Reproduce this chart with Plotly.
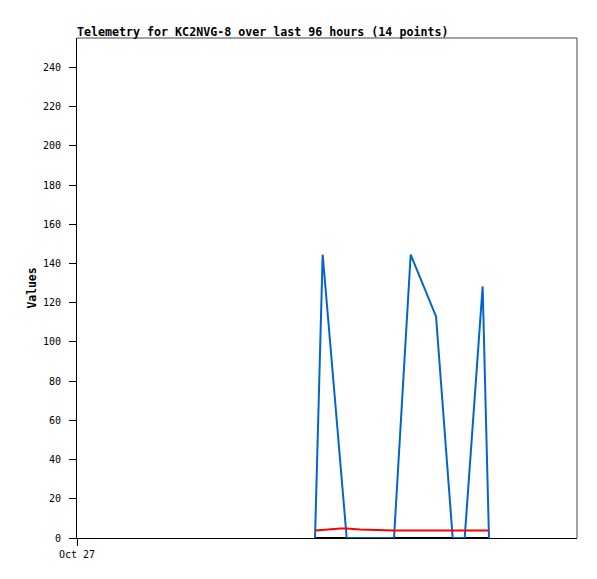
import plotly.graph_objects as go

# --- data ---
times = [
    "2024-10-28 21:42", "2024-10-28 23:10", "2024-10-29 00:15", "2024-10-29 02:30",
    "2024-10-29 03:47", "2024-10-29 06:20", "2024-10-29 10:22", "2024-10-29 12:52",
    "2024-10-29 16:04", "2024-10-29 20:56", "2024-10-30 00:08", "2024-10-30 02:26",
    "2024-10-30 05:53", "2024-10-30 07:06",
]
blue_vals = [0, 144.5, 110.8, 40.3, 0, 0, 0, 0, 144.5, 113, 0, 0, 128.3, 0]
red_vals = [3.8, 3.9, 4.3, 4.8, 4.8, 4.3, 3.8, 3.8, 3.8, 3.8, 3.8, 3.8, 3.8, 3.8]
black_vals = [0] * 14

x_range = ["2024-10-27 00:00", "2024-10-31 00:00"]
x_tickvals = ["2024-10-27 00:00"]
x_ticktext = ["Oct 27"]
y_tickvals = list(range(0, 241, 20))
y_range = [0, 255]

title_text = "Telemetry for KC2NVG-8 over last 96 hours (14 points)"
y_title = "Values"

mono = "DejaVu Sans Mono"

W, H = 589, 571  # page body has an 8px margin

fig = go.Figure()
fig.add_trace(go.Scatter(x=times, y=black_vals, mode="lines",
                         line=dict(color="#000000", width=2), showlegend=False))
fig.add_trace(go.Scatter(x=times, y=blue_vals, mode="lines",
                         line=dict(color="#0066CC", width=2), showlegend=False))
fig.add_trace(go.Scatter(x=times, y=red_vals, mode="lines",
                         line=dict(color="#FF0000", width=2), showlegend=False))

fig.update_layout(
    width=W, height=H,
    margin=dict(l=69, r=20, t=30, b=41),
    paper_bgcolor="white", plot_bgcolor="white",
    title=dict(text="<b>" + title_text + "</b>", x=69 / W, xref="container", xanchor="left",
               y=1 - 23.5 / H, yref="container", yanchor="middle",
               font=dict(family=mono, size=11.65, color="#000000")),
    xaxis=dict(type="date", range=x_range, tickvals=x_tickvals, ticktext=x_ticktext,
               showgrid=False, zeroline=False, showline=True, linecolor="#000000",
               linewidth=1, ticks="outside", ticklen=7, tickcolor="#000000",
               tickfont=dict(family=mono, size=10, color="#000000")),
    yaxis=dict(range=y_range, tickvals=y_tickvals, showgrid=False, zeroline=False,
               showline=True, linecolor="#000000", linewidth=1, ticks="outside",
               ticklen=7, tickcolor="#000000", ticklabelstandoff=6,
               tickfont=dict(family=mono, size=10, color="#000000"),
               title=dict(text="<b>" + y_title + "</b>", standoff=3,
                          font=dict(family=mono, size=11.4, color="#000000"))),
    shapes=[
        dict(type="line", xref="paper", yref="paper", x0=0, x1=1, y0=1, y1=1,
             line=dict(color="#444444", width=1)),
        dict(type="line", xref="paper", yref="paper", x0=1, x1=1, y0=0, y1=1,
             line=dict(color="#444444", width=1)),
    ],
)

fig.write_html("out.html")
